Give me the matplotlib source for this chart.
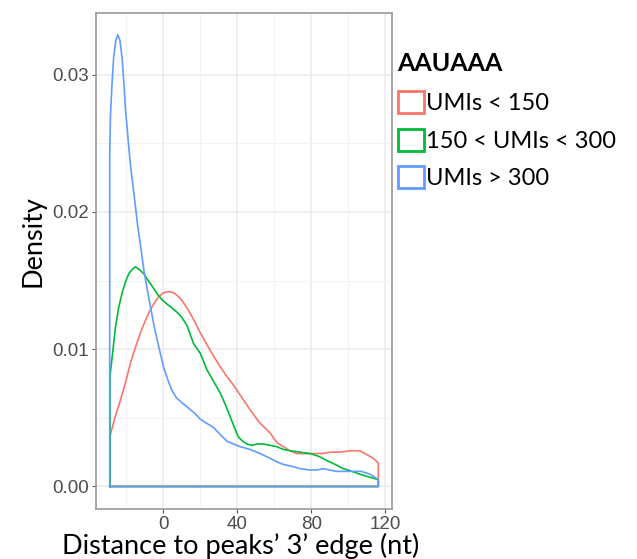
import matplotlib

matplotlib.use("Agg")
import matplotlib.pyplot as plt  # noqa: E402
import matplotlib.ticker as ticker  # noqa: E402
from matplotlib.patches import Patch  # noqa: E402

# Density curves (x in nt, y in density)
red_x = [-28.6, -26.0, -23.0, -20.0, -17.6, -15.0, -12.2, -9.5, -6.8, -4.5, -2.4, 0.0, 3.0,
         6.0, 9.3, 12.0, 14.7, 17.5, 20.1, 25.5, 30.0, 34.5, 39.0, 43.4, 48.0, 52.4, 57.8,
         61.4, 64.9, 68.6, 72.2, 76.0, 81.1, 86.0, 90.1, 95.0, 100.9, 104.0, 106.2, 109.0,
         111.6, 114.0, 116.2]
red_y = [0.0037, 0.0050, 0.0063, 0.0077, 0.0090, 0.0101, 0.0112, 0.0121, 0.0129, 0.0134,
         0.0138, 0.0141, 0.0142, 0.0141, 0.0137, 0.0132, 0.0126, 0.0119, 0.0112, 0.0099,
         0.0089, 0.0080, 0.0072, 0.0063, 0.0054, 0.0046, 0.0039, 0.0032, 0.0029, 0.0026,
         0.0024, 0.0024, 0.0024, 0.0024, 0.0025, 0.0025, 0.0026, 0.0026, 0.0026, 0.0024,
         0.0022, 0.0020, 0.0017]

green_x = [-28.6, -27.0, -25.7, -24.0, -22.1, -20.3, -18.5, -16.7, -14.9, -12.8, -10.4, -8.0,
           -5.9, -3.0, -0.5, 2.0, 4.8, 7.5, 10.2, 13.0, 16.5, 20.1, 23.7, 27.5, 30.9, 33.5,
           36.2, 38.5, 40.7, 43.0, 45.2, 48.0, 51.0, 54.2, 57.8, 61.4, 64.9, 68.6, 74.0, 79.3,
           84.0, 88.3, 93.0, 97.3, 102.0, 106.2, 111.0, 116.2]
green_y = [0.0081, 0.0100, 0.0116, 0.0130, 0.0141, 0.0149, 0.0155, 0.0158, 0.0160, 0.0158,
           0.0155, 0.0150, 0.0146, 0.0140, 0.0136, 0.0133, 0.0130, 0.0127, 0.0123, 0.0117,
           0.0104, 0.0097, 0.0085, 0.0076, 0.0068, 0.0060, 0.0051, 0.0043, 0.0036, 0.0033,
           0.0031, 0.0030, 0.0031, 0.0031, 0.0030, 0.0029, 0.0027, 0.0026, 0.0025, 0.0024,
           0.0022, 0.0019, 0.0016, 0.0013, 0.0011, 0.0009, 0.0007, 0.0005]

blue_x = [-28.8, -28.4, -27.6, -26.7, -25.5, -24.4, -23.3, -22.1, -21.2, -20.3, -19.0, -17.6,
          -15.6, -13.7, -12.0, -10.4, -8.6, -6.8, -5.0, -3.2, -1.5, 0.3, 2.5, 4.8, 7.0, 9.3,
          12.0, 14.7, 17.4, 20.1, 23.6, 27.2, 30.8, 34.5, 38.0, 41.6, 47.0, 52.4, 57.0, 61.4,
          65.0, 68.6, 74.0, 79.3, 83.0, 86.5, 90.0, 93.7, 98.0, 102.6, 107.0, 111.6, 114.0,
          116.2]
blue_y = [0.0240, 0.0270, 0.0292, 0.0312, 0.0325, 0.0329, 0.0325, 0.0312, 0.0295, 0.0275,
          0.0255, 0.0234, 0.0212, 0.0190, 0.0174, 0.0158, 0.0144, 0.0131, 0.0118, 0.0107,
          0.0097, 0.0087, 0.0078, 0.0070, 0.0065, 0.0062, 0.0059, 0.0056, 0.0053, 0.0049,
          0.0046, 0.0043, 0.0038, 0.0033, 0.0031, 0.0029, 0.0027, 0.0024, 0.0021, 0.0018,
          0.0016, 0.0015, 0.0013, 0.0012, 0.0012, 0.0013, 0.0012, 0.0011, 0.0011, 0.0011,
          0.0011, 0.0009, 0.0007, 0.0005]

series_labels = ["UMIs < 150", "150 < UMIs < 300", "UMIs > 300"]
series_colors = ["#F8766D", "#00BA38", "#619CFF"]
x_ticks = [0, 40, 80, 120]
y_ticks = [0.00, 0.01, 0.02, 0.03]

fig = plt.figure(figsize=(6.37, 5.59), dpi=100)
ax = fig.add_axes([96 / 637, 1 - 509 / 559, 296 / 637, 496 / 559])

# geom_density style: closed outline down to the baseline
for xs, ys, col in zip([red_x, green_x, blue_x], [red_y, green_y, blue_y], series_colors):
    px = [xs[0]] + xs + [xs[-1], xs[0]]
    py = [0.0] + ys + [0.0, 0.0]
    ax.plot(px, py, color=col, linewidth=1.2, solid_joinstyle="round", zorder=3)

ax.set_xlim(-36.2, 123.6)
ax.set_ylim(-0.00164, 0.03449)
ax.set_xticks(x_ticks)
ax.set_yticks(y_ticks)
ax.xaxis.set_minor_locator(ticker.MultipleLocator(20))
ax.yaxis.set_minor_locator(ticker.MultipleLocator(0.005))
ax.yaxis.set_major_formatter(ticker.FormatStrFormatter("%.2f"))
ax.grid(True, which="major", color="#EBEBEB", linewidth=1.1, zorder=0)
ax.grid(True, which="minor", color="#F3F3F3", linewidth=0.8, zorder=0)
ax.set_axisbelow(True)
ax.tick_params(which="major", length=3, color="#555555", labelsize=13.5,
               labelcolor="#4D4D4D", pad=2)
ax.tick_params(which="minor", length=0)
for lbl in ax.get_xticklabels() + ax.get_yticklabels():
    lbl.set_family("Liberation Sans")
for sp in ax.spines.values():
    sp.set_color("#9A9A9A")
    sp.set_linewidth(1.2)

fig.text(241 / 637, 1 - 546 / 559, "Distance to peaks\u2019 3\u2019 edge (nt)",
         fontsize=19.5, family="Lato", ha="center", va="center")
fig.text(33 / 637, 1 - 241 / 559, "Density", fontsize=19.5, family="Lato",
         rotation=90, ha="center", va="center")

handles = [Patch(facecolor="white", edgecolor=c, linewidth=2.0) for c in series_colors]
leg = fig.legend(handles, series_labels, title="AAUAAA", loc="upper left",
                 bbox_to_anchor=(381 / 637, 1 - 35 / 559), frameon=False,
                 prop={"family": "Lato", "size": 17},
                 title_fontproperties={"family": "Lato", "size": 18, "weight": "bold"},
                 handlelength=1.1, handleheight=1.05, handletextpad=0.12,
                 labelspacing=0.61, borderpad=0.2)
leg._legend_box.align = "left"
leg._legend_box.sep = 12

fig.savefig("out.png", dpi=100)
